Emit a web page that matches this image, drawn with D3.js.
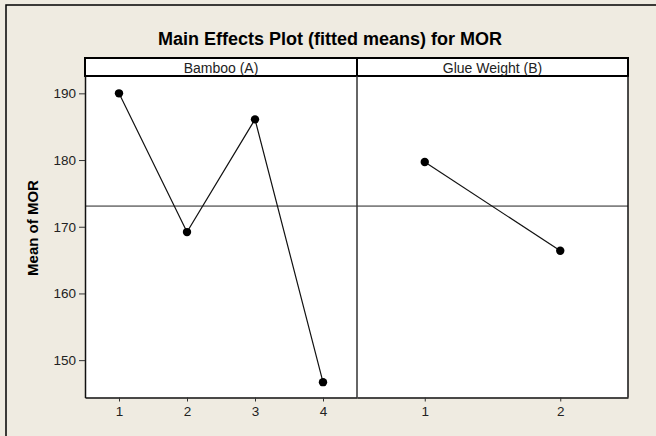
<!DOCTYPE html>
<html>
<head>
<meta charset="utf-8">
<script src="https://cdn.jsdelivr.net/npm/d3@7"></script>
<style>
  html, body { margin: 0; padding: 0; background: #efebe1; }
  svg { display: block; }
</style>
</head>
<body>
<div id="chart"></div>
<script>
// values
const bambooLevels = [1, 2, 3, 4];
const bambooMeans = [190.0, 169.2, 186.1, 146.7];
const glueLevels = [1, 2];
const glueMeans = [179.7, 166.4];
const grandMean = 173.1;
const yTicks = [150, 160, 170, 180, 190];
const panelNames = ["Bamboo (A)", "Glue Weight (B)"];

const W = 656, H = 436;
const plotTop = 76, plotBottom = 397.5;
const left = 85, mid = 357, right = 628;
const font = "Liberation Sans, Arial, sans-serif";

const svg = d3.select("#chart").append("svg")
    .attr("width", W)
    .attr("height", H);

// outer frame (right and bottom edges fall outside the picture)
svg.append("rect")
    .attr("x", 6).attr("y", 5)
    .attr("width", W + 10).attr("height", H + 10)
    .attr("fill", "#efebe1")
    .attr("stroke", "#000")
    .attr("stroke-width", 1.5);

svg.append("text")
    .attr("x", 330).attr("y", 45)
    .attr("text-anchor", "middle")
    .attr("font-family", font)
    .attr("font-weight", "bold")
    .attr("font-size", "18px")
    .text("Main Effects Plot (fitted means) for MOR");

const yScale = d3.scaleLinear()
    .domain([144.4, 192.6])
    .range([plotBottom, plotTop]);

const xA = d3.scaleLinear().domain([0.5, 4.5]).range([left, mid]);
const xB = d3.scaleLinear().domain([0.5, 2.5]).range([mid, right]);

// plot area
svg.append("rect")
    .attr("x", left).attr("y", plotTop)
    .attr("width", right - left).attr("height", plotBottom - plotTop)
    .attr("fill", "#fff");

// strips
const strips = [[left, mid], [mid, right]];
strips.forEach(function(s, i) {
    svg.append("rect")
        .attr("x", s[0]).attr("y", 58)
        .attr("width", s[1] - s[0]).attr("height", plotTop - 58)
        .attr("fill", "#fff")
        .attr("stroke", "#000")
        .attr("stroke-width", 2);
    svg.append("text")
        .attr("x", (s[0] + s[1]) / 2).attr("y", 72.5)
        .attr("text-anchor", "middle")
        .attr("font-family", font)
        .attr("font-size", "14px")
        .attr("fill", "#222")
        .text(panelNames[i]);
});

// reference line at the grand mean
svg.append("line")
    .attr("x1", left).attr("x2", right)
    .attr("y1", yScale(grandMean)).attr("y2", yScale(grandMean))
    .attr("stroke", "#222")
    .attr("stroke-width", 1);

// panel borders
svg.append("line")
    .attr("x1", mid).attr("x2", mid)
    .attr("y1", plotTop).attr("y2", plotBottom)
    .attr("stroke", "#333").attr("stroke-width", 1.5);
svg.append("line")
    .attr("x1", right).attr("x2", right)
    .attr("y1", plotTop).attr("y2", plotBottom)
    .attr("stroke", "#111").attr("stroke-width", 1.5);

// y axis
const yAxis = svg.append("g")
    .attr("transform", `translate(${left},0)`)
    .call(d3.axisLeft(yScale).tickValues(yTicks).tickSize(6).tickPadding(3).tickSizeOuter(0));

// x axes
const xAxisA = svg.append("g")
    .attr("transform", `translate(0,${plotBottom})`)
    .call(d3.axisBottom(xA).tickValues(bambooLevels).tickFormat(d3.format("d")).tickSize(4).tickPadding(5).tickSizeOuter(0));
const xAxisB = svg.append("g")
    .attr("transform", `translate(0,${plotBottom})`)
    .call(d3.axisBottom(xB).tickValues(glueLevels).tickFormat(d3.format("d")).tickSize(4).tickPadding(5).tickSizeOuter(0));

[yAxis, xAxisA, xAxisB].forEach(function(a) {
    a.selectAll("path.domain").attr("stroke", "#111").attr("stroke-width", 1.5);
    a.selectAll(".tick line").attr("stroke", "#333");
    a.selectAll("text")
        .attr("font-family", font)
        .attr("font-size", "13.5px")
        .attr("fill", "#222");
});

svg.append("text")
    .attr("transform", "translate(38,228) rotate(-90)")
    .attr("text-anchor", "middle")
    .attr("font-family", font)
    .attr("font-weight", "bold")
    .attr("font-size", "15px")
    .text("Mean of MOR");

// effect lines and points
function drawEffect(levels, means, xScale) {
    const pts = levels.map(function(d, i) { return { x: d, y: means[i] }; });
    svg.append("path")
        .datum(pts)
        .attr("fill", "none")
        .attr("stroke", "#111")
        .attr("stroke-width", 1.2)
        .attr("d", d3.line()
            .x(function(d) { return xScale(d.x) })
            .y(function(d) { return yScale(d.y) }));
    svg.selectAll(null)
        .data(pts)
        .enter().append("circle")
        .attr("cx", d => xScale(d.x))
        .attr("cy", d => yScale(d.y))
        .attr("r", 4.2)
        .attr("fill", "#000");
}
drawEffect(bambooLevels, bambooMeans, xA);
drawEffect(glueLevels, glueMeans, xB);
</script>
</body>
</html>
